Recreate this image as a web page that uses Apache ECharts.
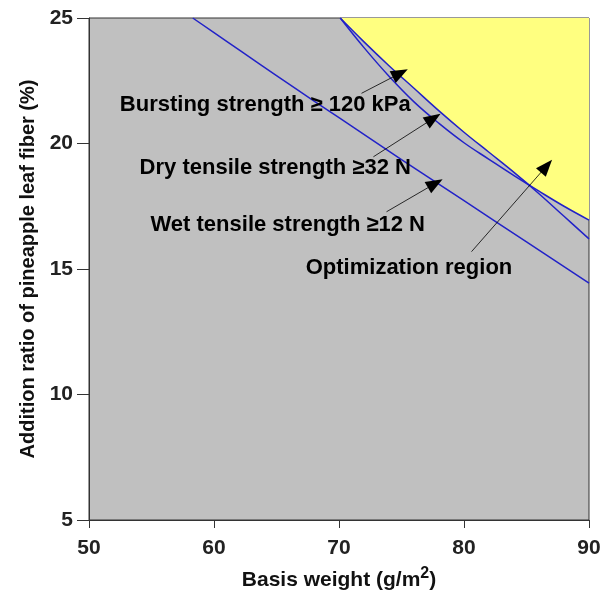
<!DOCTYPE html>
<html>
<head>
<meta charset="utf-8">
<script src="https://cdn.jsdelivr.net/npm/echarts@6/dist/echarts.min.js"></script>
<style>
  html, body { margin: 0; padding: 0; background: #fff; }
  #chart { width: 604px; height: 596px; }
</style>
</head>
<body>
<div id="chart"></div>
<script>
// basis weight (g/m2) sample points for the two upper boundaries
const basisWeight = [70.1, 72, 74, 76, 78, 80, 82, 84, 86, 88, 90];
const burstingRatio = [25, 24.05, 23.1, 22.2, 21.3, 20.45, 19.65, 18.85, 18.0, 17.1, 16.2];
const dryRatio = [25, 23.82, 22.68, 21.66, 20.8, 20.03, 19.37, 18.72, 18.1, 17.5, 16.95];
// wet tensile boundary
const wetWeight = [58.3, 60, 65, 70, 75, 80, 85, 90];
const wetRatio = [25, 24.42, 22.7, 21.03, 19.36, 17.72, 16.08, 14.44];

const xTicks = [50, 60, 70, 80, 90];
const yTicks = [5, 10, 15, 20, 25];

const labelNames = ['Bursting strength ≥ 120 kPa', 'Dry tensile strength ≥32 N', 'Wet tensile strength ≥12 N', 'Optimization region'];
const labelPos = [[64.1, 21.53], [64.9, 19.02], [65.9, 16.75], [75.6, 15.04]];
// arrows: [tail, tip]
const arrows = [
  [[71.8, 22.0], [74.9, 22.8]],
  [[72.75, 19.47], [77.55, 21.0]],
  [[73.8, 17.28], [77.7, 18.41]],
  [[80.6, 15.69], [86.6, 19.1]]
];

const chart = echarts.init(document.getElementById('chart'));

const toPairs = (xs, ys) => xs.map((x, i) => [x, ys[i]]);
const envelope = basisWeight.map((x, i) => [x, Math.max(burstingRatio[i], dryRatio[i])]);

const font = 'Liberation Sans, Arial, sans-serif';
const lineBlue = '#2222c8';

const option = {
  animation: false,
  grid: {
    left: 89, right: 15, top: 18, bottom: 76,
    show: true,
    backgroundColor: '#c0c0c0',
    borderColor: '#333',
    borderWidth: 1
  },
  xAxis: {
    type: 'value',
    min: xTicks[0], max: xTicks[xTicks.length - 1], interval: 10,
    name: '{a|Basis weight (g/m}{s|2}{a|)}',
    nameLocation: 'middle',
    nameGap: 46,
    nameTextStyle: {
      rich: {
        a: { fontFamily: font, fontWeight: 'bold', fontSize: 21, color: '#111' },
        s: { fontFamily: font, fontWeight: 'bold', fontSize: 16, color: '#111', verticalAlign: 'top', padding: [0, 0, 12, 0] }
      }
    },
    axisLine: { lineStyle: { color: '#333' } },
    axisTick: { length: 8, lineStyle: { color: '#333' } },
    axisLabel: { margin: 18, fontFamily: font, fontWeight: 'bold', fontSize: 21, color: '#222' },
    splitLine: { show: false }
  },
  yAxis: {
    type: 'value',
    min: yTicks[0], max: yTicks[yTicks.length - 1], interval: 5,
    name: 'Addition ratio of pineapple leaf fiber (%)',
    nameLocation: 'middle',
    nameGap: 50,
    nameTextStyle: { fontFamily: font, fontWeight: 'bold', fontSize: 20, color: '#111' },
    axisLine: { lineStyle: { color: '#333' } },
    axisTick: { length: 12, lineStyle: { color: '#333' } },
    axisLabel: { margin: 16, fontFamily: font, fontWeight: 'bold', fontSize: 21, color: '#222' },
    splitLine: { show: false }
  },
  series: [
    {
      // yellow optimization region above both boundaries
      type: 'line',
      data: envelope,
      symbol: 'none',
      lineStyle: { width: 0 },
      areaStyle: { origin: 'end', color: '#ffff80', opacity: 1 },
      z: 1
    },
    {
      type: 'line',
      data: toPairs(basisWeight, burstingRatio),
      symbol: 'none', smooth: 0.4,
      lineStyle: { color: lineBlue, width: 1.5 },
      z: 2
    },
    {
      type: 'line',
      data: toPairs(basisWeight, dryRatio),
      symbol: 'none', smooth: 0.4,
      lineStyle: { color: lineBlue, width: 1.5 },
      z: 2
    },
    {
      type: 'line',
      data: toPairs(wetWeight, wetRatio),
      symbol: 'none', smooth: true,
      lineStyle: { color: lineBlue, width: 1.5 },
      z: 2,
      markLine: {
        silent: true,
        symbol: ['none', 'triangle'],
        symbolSize: [13, 17],
        label: { show: false },
        lineStyle: { color: '#000', width: 0.8, type: 'solid', opacity: 1 },
        emphasis: { disabled: true },
        data: arrows.map(a => [{ coord: a[0] }, { coord: a[1] }])
      }
    },
    {
      type: 'scatter',
      symbolSize: 0,
      itemStyle: { opacity: 1 },
      data: labelPos.map((p, i) => ({ value: p, name: labelNames[i] })),
      label: {
        show: true,
        position: 'inside',
        formatter: p => p.name,
        fontFamily: font, fontWeight: 'bold', fontSize: 22, color: '#000', opacity: 1
      },
      z: 5
    }
  ]
};
chart.setOption(option);
</script>
</body>
</html>
